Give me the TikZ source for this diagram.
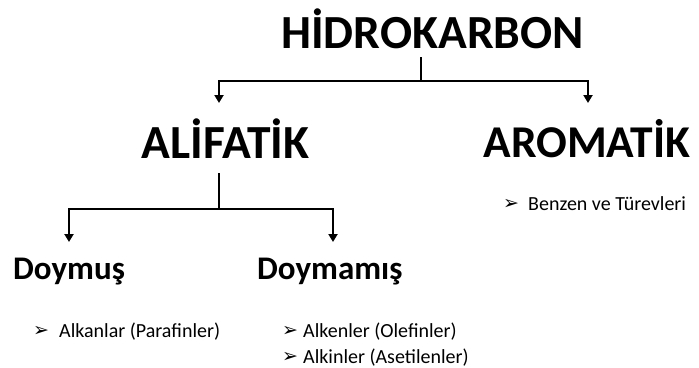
\documentclass[tikz,border=0pt]{standalone}
\usepackage{fontspec}
\setmainfont{Carlito}
\newfontfamily\symfont{DejaVu Sans}
\usetikzlibrary{arrows.meta}
\tikzset{
  big/.style={font=\fontsize{47.5}{54}\selectfont\bfseries, inner sep=0pt, anchor=base},
  mid/.style={font=\fontsize{33}{38}\selectfont\bfseries, inner sep=0pt, anchor=base west},
  item/.style={font=\fontsize{20}{24}\selectfont, inner sep=0pt, anchor=base west},
  bul/.style={font=\fontsize{19}{22}\symfont, inner sep=0pt, anchor=base west},
  link/.style={line width=2.2pt},
  arr/.style={line width=2.2pt, -{Triangle[length=8pt,width=9pt]}}
}
\begin{document}
\begin{tikzpicture}[x=1pt,y=-1pt]
\useasboundingbox[fill=white] (0,0) rectangle (699,367);
\node[big] (hidro) at (432.5,48) {HİDROKARBON};
\node[big] (ali) at (225.5,158) {ALİFATİK};
\node[big, font=\fontsize{45.5}{52}\selectfont\bfseries] (aro) at (587,157) {AROMATİK};
\node[mid] (doy) at (13,279) {Doymuş};
\node[mid] (doyma) at (257,279) {Doymamış};
\node[bul] (b1) at (33,336) {➢};
\node[item] (t1) at (59,337) {Alkanlar (Parafinler)};
\node[bul] (b2) at (282,336) {➢};
\node[item] (t2) at (303,337) {Alkenler (Olefinler)};
\node[bul] (b3) at (282,362) {➢};
\node[item] (t3) at (303,363) {Alkinler (Asetilenler)};
\node[bul] (b4) at (503,209) {➢};
\node[item] (t4) at (528,210) {Benzen ve Türevleri};
\coordinate (s1) at (421,57);
\coordinate (j1) at (421,81);
\coordinate (e1) at (219,103);
\coordinate (e2) at (588,103);
\coordinate (s2) at (219,173);
\coordinate (j2) at (219,209);
\coordinate (e3) at (69,242);
\coordinate (e4) at (333,242);
\draw[link] (s1) -- (j1);
\draw[arr] (j1) -| (e1);
\draw[arr] (j1) -| (e2);
\draw[link] (s2) -- (j2);
\draw[arr] (j2) -| (e3);
\draw[arr] (j2) -| (e4);
\end{tikzpicture}
\end{document}
